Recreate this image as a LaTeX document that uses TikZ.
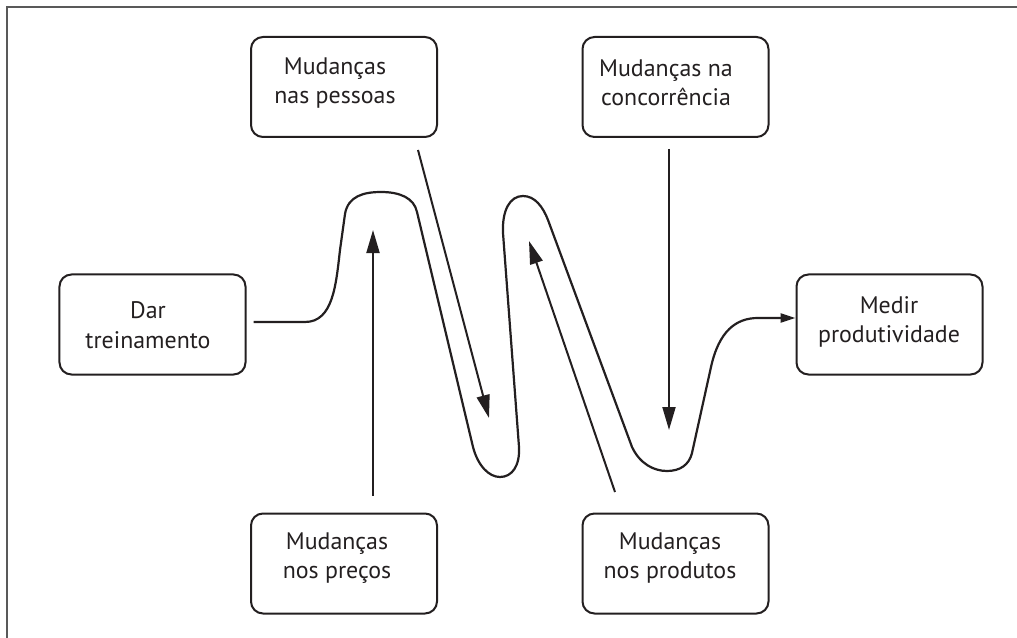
\documentclass[tikz,border=0pt]{standalone}
\usepackage{fontspec}
\setmainfont{PT Sans}
\usetikzlibrary{arrows.meta}
\definecolor{ink}{HTML}{231F20}
\begin{document}
\begin{tikzpicture}[x=1bp,y=-1bp,
  box/.style={draw=ink,line width=2bp,rounded corners=12bp,minimum width=186bp,minimum height=100bp,inner sep=0pt},
  txt/.style={align=center,inner sep=0pt,text=ink,font=\fontsize{24}{29.5}\selectfont},
  arr/.style={draw=ink,line width=2bp,-{Triangle[length=23bp,width=13bp]}},
  flow/.style={draw=ink,line width=2.2bp,-{Triangle[length=15bp,width=9bp]}},
  frame/.style={draw=black!65,line width=1.6bp}]
\useasboundingbox (0,0) rectangle (1017,638);
\draw[frame] (7,640) -- (7,7) -- (1019,7);
% boxes
\node[box] (pessoas) at (344,87) {};
\node[txt] (pessoas-t) at (335,83) {Mudanças\\nas pessoas};
\node[box] (concorrencia) at (675.5,87) {};
\node[txt] (concorrencia-t) at (666,83) {Mudanças na\\concorrência};
\node[box] (dar) at (152.5,324.5) {};
\node[txt] (dar-t) at (148,325) {Dar\\treinamento};
\node[box] (medir) at (889.5,324.5) {};
\node[txt] (medir-t) at (889,322) {Medir\\produtividade};
\node[box] (precos) at (344,563.5) {};
\node[txt] (precos-t) at (337,558) {Mudanças\\nos preços};
\node[box] (produtos) at (675.5,563.5) {};
\node[txt] (produtos-t) at (670,558) {Mudanças\\nos produtos};
% arrow tips
\coordinate (tipPessoas) at (489,418);
\coordinate (tipConc) at (669,430);
\coordinate (tipPrecos) at (373,230);
\coordinate (tipProd) at (529,241);
\draw[arr] (418,150) -- (tipPessoas);
\draw[arr] (concorrencia.south -| tipConc) ++(0,11) -- (tipConc);
\draw[arr] (precos.north -| tipPrecos) ++(0,-17) -- (tipPrecos);
\draw[arr] (615,492) -- (tipProd);
% winding flow
\draw[flow,line join=round] ([xshift=7bp,yshift=2.5bp]dar.east) -- (305,322)
  .. controls (333,322) and (336,285) .. (340,250)
  -- (345,214)
  .. controls (348,196) and (364,192) .. (381,192)
  .. controls (400,192) and (414,198) .. (417,212)
  -- (473,447)
  .. controls (478,466) and (489,477) .. (500,477)
  .. controls (512,477) and (520,466) .. (519,447)
  -- (503,233)
  .. controls (502,210) and (510,196) .. (523,196)
  .. controls (535,196) and (543,207) .. (548,220)
  -- (632,447)
  .. controls (640,464) and (654,471) .. (667,471)
  .. controls (680,471) and (689,465) .. (692,453)
  -- (711,367)
  .. controls (719,331) and (736,318) .. (758,318)
  -- ([yshift=6.5bp]medir.west);
\end{tikzpicture}
\end{document}
